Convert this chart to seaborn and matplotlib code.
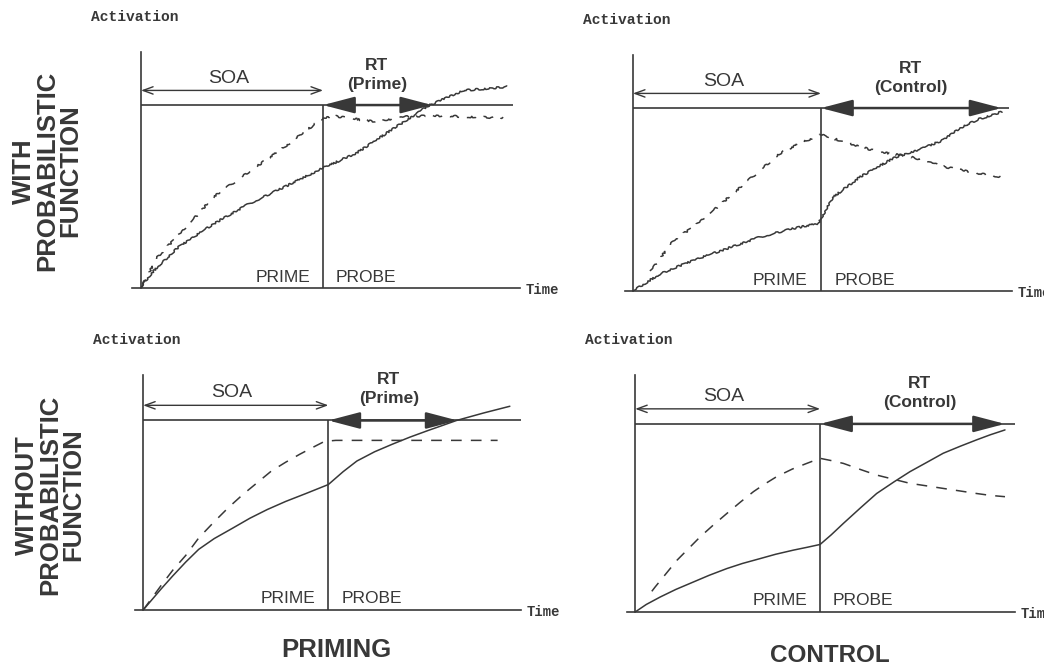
import numpy as np
import pandas as pd
import seaborn as sns
import matplotlib.pyplot as plt

# values: time in units where SOA = 5, activation with threshold = 1
p1_t_solid = [0, 0.2, 0.44, 1.03, 2.01, 2.99, 3.97, 5.0, 5.93, 6.91, 7.89, 8.87, 9.5, 10.05]
p1_a_solid = [0, 0.06, 0.114, 0.224, 0.353, 0.463, 0.555, 0.656, 0.739, 0.868, 0.996, 1.08, 1.09, 1.10]
p1_t_dash = [0, 0.45, 1.23, 2.0, 3.0, 3.8, 4.47, 5.0, 5.3, 6.4, 7.4, 8.4, 9.95]
p1_a_dash = [0, 0.17, 0.33, 0.5, 0.64, 0.75, 0.85, 0.93, 0.94, 0.91, 0.94, 0.94, 0.93]

p2_t_solid = [0, 0.73, 1.61, 2.5, 3.39, 4.27, 4.94, 5.0, 5.34, 6.05, 6.93, 7.82, 8.26, 8.7, 9.15, 9.81]
p2_a_solid = [0, 0.095, 0.168, 0.232, 0.296, 0.342, 0.369, 0.397, 0.516, 0.625, 0.726, 0.79, 0.826, 0.89, 0.936, 0.98]
p2_t_dash = [0.45, 0.55, 1.08, 1.61, 2.15, 2.77, 3.39, 3.92, 4.45, 5.0, 5.6, 6.49, 7.38, 8.26, 9.15, 9.77]
p2_a_dash = [0.11, 0.13, 0.278, 0.35, 0.442, 0.552, 0.662, 0.753, 0.808, 0.854, 0.817, 0.762, 0.735, 0.68, 0.643, 0.625]

p3_t_solid = [0, 0.48, 0.8, 1.15, 1.5, 1.92, 2.4, 2.88, 3.35, 3.85, 4.4, 5.0, 5.4, 5.77,
              6.25, 6.73, 7.2, 7.69, 8.1, 8.46, 9.2, 9.9]
p3_a_solid = [0, 0.11, 0.18, 0.253, 0.32, 0.377, 0.43, 0.484, 0.53, 0.573, 0.615, 0.662, 0.73, 0.786,
              0.835, 0.875, 0.912, 0.947, 0.975, 1.0, 1.04, 1.075]
p3_t_dash = [0, 0.48, 0.8, 1.15, 1.5, 1.92, 2.3, 2.69, 3.1, 3.46, 3.85, 4.23, 4.6, 4.9, 5.2, 9.57]
p3_a_dash = [0, 0.128, 0.21, 0.288, 0.38, 0.466, 0.54, 0.609, 0.675, 0.733, 0.78, 0.822, 0.86, 0.89, 0.895, 0.895]

p4_t_solid = [0, 0.3, 0.68, 1.1, 1.58, 2.0, 2.48, 2.9, 3.38, 3.8, 4.28, 4.65, 5.0, 5.3, 5.63,
              6.1, 6.53, 7.0, 7.43, 7.9, 8.33, 8.8, 9.23, 9.6, 10.0]
p4_a_solid = [0, 0.04, 0.08, 0.12, 0.16, 0.195, 0.231, 0.258, 0.284, 0.307, 0.329, 0.344, 0.359, 0.41, 0.471,
              0.555, 0.63, 0.692, 0.746, 0.797, 0.844, 0.882, 0.915, 0.942, 0.968]
p4_t_dash = [0.45, 0.54, 1.13, 1.76, 2.1, 2.48, 2.85, 3.2, 3.5, 3.83, 4.25, 4.64, 5.0, 5.3, 5.63,
             6.1, 6.53, 7.0, 7.43, 7.9, 8.33, 8.8, 9.23, 9.6, 10.0]
p4_a_dash = [0.11, 0.133, 0.275, 0.4, 0.46, 0.524, 0.585, 0.64, 0.68, 0.72, 0.76, 0.79, 0.817, 0.805, 0.79,
             0.757, 0.728, 0.705, 0.684, 0.67, 0.657, 0.643, 0.63, 0.62, 0.613]

solids = [(p1_t_solid, p1_a_solid), (p2_t_solid, p2_a_solid), (p3_t_solid, p3_a_solid), (p4_t_solid, p4_a_solid)]
dashes = [(p1_t_dash, p1_a_dash), (p2_t_dash, p2_a_dash), (p3_t_dash, p3_a_dash), (p4_t_dash, p4_a_dash)]

soa = 5.0
threshold = 1.0
rt_names = ['(Prime)', '(Control)', '(Prime)', '(Control)']
rt_end = [8.0, 9.8, 8.49, 10.0]
rt_text_x = [6.48, 7.38, 6.63, 7.7]
thr_end = [10.22, 9.99, 10.2, 10.27]
noisy = [True, True, False, False]

# layout (figure fractions), limits
rects = [[0.1264, 0.5669, 0.3716, 0.3549], [0.5987, 0.5624, 0.3707, 0.3549],
         [0.1293, 0.0827, 0.3697, 0.3534], [0.6006, 0.0797, 0.3716, 0.3564]]
xlims = [(-0.25, 10.41), (-0.21, 10.08), (-0.22, 10.2), (-0.22, 10.27)]
ytops = [1.29, 1.29, 1.24, 1.26]

ink = '#383838'
sans = 'Liberation Sans'
mono = 'Liberation Mono'

sns.set_theme(style='white')
plt.rcParams['font.family'] = [sans, 'DejaVu Sans']

fig = plt.figure(figsize=(10.44, 6.65), dpi=100)

for i in range(4):
    ax = fig.add_axes(rects[i])
    ax.set_facecolor('none')
    t, a = solids[i]
    sns.lineplot(x=t, y=a, ax=ax, color=ink, lw=1.1, estimator=None, sort=False)
    td, ad = dashes[i]
    sns.lineplot(x=td, y=ad, ax=ax, color=ink, lw=1.1, estimator=None, sort=False,
                 linestyle=(0, (7, 6)))
    if noisy[i]:
        for ln in ax.lines:
            ln.set_sketch_params(0.9, 9, 8)

    ax.set_xlim(*xlims[i])
    ax.set_ylim(0, ytops[i])
    ax.set_xticks([])
    ax.set_yticks([])
    ax.set_xlabel('')
    ax.set_ylabel('')
    for s in ['top', 'right']:
        ax.spines[s].set_visible(False)
    ax.spines['left'].set_position(('data', 0))
    for s in ['left', 'bottom']:
        ax.spines[s].set_color(ink)
        ax.spines[s].set_linewidth(1.2)

    # threshold and prime/probe divider
    ax.hlines(threshold, 0, thr_end[i], color=ink, lw=1.2)
    ax.vlines(soa, 0, threshold, color=ink, lw=1.2)

    # SOA arrow
    ax.annotate('', xy=(soa, 1.08), xytext=(0, 1.08),
                arrowprops=dict(arrowstyle='<->,head_length=0.6,head_width=0.22',
                                color=ink, lw=1.0, shrinkA=0, shrinkB=0, mutation_scale=12))
    ax.text(2.4, 1.145, 'SOA', ha='center', va='center', fontsize=14, color=ink)

    # RT arrow
    ax.annotate('', xy=(rt_end[i], threshold), xytext=(soa, threshold),
                arrowprops=dict(arrowstyle='<|-|>,head_length=1.6,head_width=0.42',
                                color=ink, lw=1.8, shrinkA=0, shrinkB=0, mutation_scale=12))
    ax.text(rt_text_x[i], 1.165, 'RT\n' + rt_names[i], ha='center', va='center',
            fontsize=12.5, fontweight='bold', color=ink, linespacing=1.3)

    ax.text(soa - 0.35, 0.06, 'PRIME', ha='right', va='center', fontsize=12.5, color=ink)
    ax.text(soa + 0.35, 0.06, 'PROBE', ha='left', va='center', fontsize=12.5, color=ink)

    ax.annotate('Activation', xy=(0, ytops[i]), xytext=(-50, 35), textcoords='offset pixels',
                ha='left', va='center', fontsize=10.5, fontweight='bold', family=mono, color=ink)
    ax.annotate('Time', xy=(1, 0), xycoords='axes fraction', xytext=(6, -2),
                textcoords='offset pixels', ha='left', va='center', fontsize=10,
                fontweight='bold', family=mono, color=ink)

fig.text(47 / 1044, 1 - 171 / 665, 'WITH\nPROBABILISTIC\nFUNCTION', rotation=90,
         ha='center', va='center', multialignment='center', fontsize=18.5,
         fontweight='bold', color=ink, linespacing=0.95)
fig.text(50 / 1044, 1 - 495 / 665, 'WITHOUT\nPROBABILISTIC\nFUNCTION', rotation=90,
         ha='center', va='center', multialignment='center', fontsize=18.5,
         fontweight='bold', color=ink, linespacing=0.95)
fig.text(336 / 1044, 1 - 650 / 665, 'PRIMING', ha='center', va='center',
         fontsize=18.5, fontweight='bold', color=ink)
fig.text(830 / 1044, 1 - 655 / 665, 'CONTROL', ha='center', va='center',
         fontsize=17.5, fontweight='bold', color=ink)

plt.savefig('out.png', dpi=100)
plt.close()
